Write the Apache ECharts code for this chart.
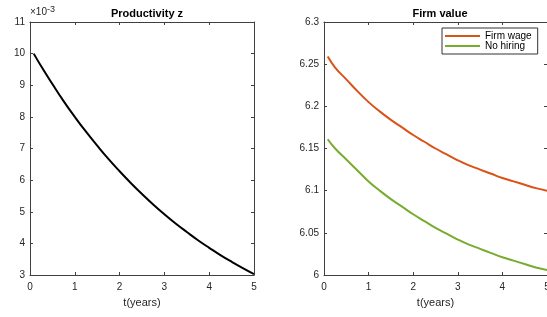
<!DOCTYPE html>
<html>
<head>
<meta charset="utf-8">
<script src="https://cdn.jsdelivr.net/npm/echarts@6/dist/echarts.min.js"></script>
<style>
  html, body { margin: 0; padding: 0; background: #fff; }
  #chart { width: 547px; height: 317px; }
</style>
</head>
<body>
<div id="chart"></div>
<script>
// time grid in years
var tYears = [0.0833, 0.25, 0.5, 0.75, 1, 1.25, 1.5, 1.75, 2, 2.25, 2.5, 2.75, 3, 3.25, 3.5, 3.75, 4, 4.25, 4.5, 4.75, 5];
// productivity z, in units of 1e-3
var zVals = [10.00, 9.60, 9.04, 8.50, 8.00, 7.53, 7.09, 6.67, 6.28, 5.91, 5.56, 5.23, 4.92, 4.63, 4.36, 4.10, 3.86, 3.63, 3.42, 3.22, 3.03];
// firm value
var firmWage = [6.259, 6.246, 6.232, 6.218, 6.205, 6.194, 6.184, 6.175, 6.166, 6.158, 6.150, 6.143, 6.136, 6.130, 6.125, 6.120, 6.115, 6.111, 6.107, 6.103, 6.100];
var noHiring = [6.161, 6.150, 6.137, 6.124, 6.111, 6.100, 6.090, 6.081, 6.072, 6.064, 6.056, 6.049, 6.042, 6.036, 6.031, 6.026, 6.021, 6.017, 6.013, 6.009, 6.006];
var xTicks = [0, 1, 2, 3, 4, 5];

function pairs(ys) {
  var out = [];
  for (var i = 0; i < tYears.length; i++) {
    out.push([tYears[i], ys[i]]);
  }
  return out;
}

var FONT = '"Liberation Sans", Arial, sans-serif';
var AX = '#404040';

function xAx(grid, pos, labels) {
  return {
    type: 'value', gridIndex: grid, position: pos,
    min: xTicks[0], max: xTicks[xTicks.length - 1], interval: 1,
    name: labels ? 't(years)' : '', nameLocation: 'middle', nameGap: 22,
    nameTextStyle: { fontFamily: FONT, fontSize: 11, color: '#262626' },
    axisLine: { show: true, onZero: false, lineStyle: { color: AX, width: 1 } },
    axisTick: { show: true, inside: true, length: 3, lineStyle: { color: AX } },
    axisLabel: { show: labels, margin: 7, fontFamily: FONT, fontSize: 10, color: '#262626' },
    splitLine: { show: false }
  };
}

function yAx(grid, pos, labels, min, max, step, name) {
  return {
    type: 'value', gridIndex: grid, position: pos,
    min: min, max: max, interval: step,
    name: name || '', nameLocation: 'end', nameGap: 2,
    nameTextStyle: {
      align: 'left', fontFamily: FONT, color: '#262626',
      rich: {
        b: { fontSize: 10, fontFamily: FONT, color: '#262626' },
        s: { fontSize: 9, fontFamily: FONT, color: '#262626', padding: [0, 0, 6, 0] }
      }
    },
    axisLine: { show: true, onZero: false, lineStyle: { color: AX, width: 1 } },
    axisTick: { show: true, inside: true, length: 3, lineStyle: { color: AX } },
    axisLabel: { show: labels, margin: 5, fontFamily: FONT, fontSize: 10, color: '#262626' },
    splitLine: { show: false }
  };
}

var chart = echarts.init(document.getElementById('chart'));
chart.setOption({
  animation: false,
  backgroundColor: '#fff',
  title: [
    { text: 'Productivity z', left: 142, top: 3, textAlign: 'center',
      textStyle: { fontFamily: FONT, fontSize: 11, fontWeight: 'bold', color: '#000' } },
    { text: 'Firm value', left: 435, top: 3, textAlign: 'center',
      textStyle: { fontFamily: FONT, fontSize: 11, fontWeight: 'bold', color: '#000' } }
  ],
  legend: {
    data: ['Firm wage', 'No hiring'],
    orient: 'vertical', left: 442, top: 28,
    icon: 'rect', itemWidth: 35, itemHeight: 2, itemGap: 0,
    padding: [3, 6, 3, 3],
    borderColor: '#333', borderWidth: 1, backgroundColor: '#fff',
    textStyle: { fontFamily: FONT, fontSize: 10, lineHeight: 10, color: '#000', padding: [0, 0, 0, 0] }
  },
  grid: [
    { left: 30, top: 22, width: 224, height: 253, outerBoundsMode: 'none' },
    { left: 324, top: 22, width: 223, height: 253, outerBoundsMode: 'none' }
  ],
  xAxis: [
    xAx(0, 'bottom', true), xAx(0, 'top', false),
    xAx(1, 'bottom', true), xAx(1, 'top', false)
  ],
  yAxis: [
    yAx(0, 'left', true, 3, 11, 1, '{b|×10}{s|-3}'), yAx(0, 'right', false, 3, 11, 1),
    yAx(1, 'left', true, 6, 6.3, 0.05), yAx(1, 'right', false, 6, 6.3, 0.05)
  ],
  series: [
    { name: 'Productivity z', type: 'line', xAxisIndex: 0, yAxisIndex: 0,
      data: pairs(zVals), smooth: true, showSymbol: false,
      lineStyle: { color: '#000', width: 2 }, itemStyle: { color: '#000' } },
    { name: 'Firm wage', type: 'line', xAxisIndex: 2, yAxisIndex: 2,
      data: pairs(firmWage), smooth: true, showSymbol: false,
      lineStyle: { color: '#D95319', width: 2 }, itemStyle: { color: '#D95319' } },
    { name: 'No hiring', type: 'line', xAxisIndex: 2, yAxisIndex: 2,
      data: pairs(noHiring), smooth: true, showSymbol: false,
      lineStyle: { color: '#77AC30', width: 2 }, itemStyle: { color: '#77AC30' } }
  ]
});
</script>
</body>
</html>
